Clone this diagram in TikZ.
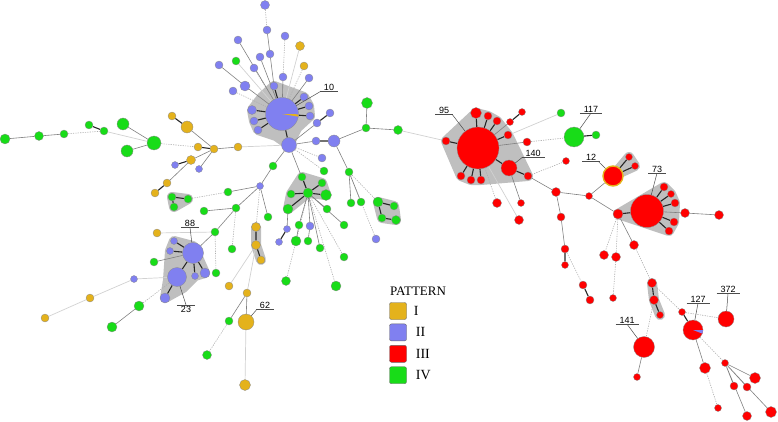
\documentclass[tikz,border=0pt]{standalone}
\usepackage{fontspec}
\setmainfont{Liberation Serif}
\newfontfamily\tagfont{Liberation Sans}
\usetikzlibrary{positioning,backgrounds}
\definecolor{patI}{RGB}{228,178,28}
\definecolor{patII}{RGB}{128,128,240}
\definecolor{patIII}{RGB}{255,0,0}
\definecolor{patIV}{RGB}{24,220,24}

\begin{document}
\begin{tikzpicture}[
    x=1pt, y=-1pt,
    st/.style={circle, draw=black!45, line width=0.3pt, inner sep=0pt, minimum size=#1},
    pI/.style={st=#1, fill=patI}, pI/.default=8,
    pII/.style={st=#1, fill=patII}, pII/.default=8,
    pIII/.style={st=#1, fill=patIII}, pIII/.default=8,
    pIV/.style={st=#1, fill=patIV}, pIV/.default=8,
    tieln/.style={draw=black!85, line width=1.1pt},
    grayln/.style={draw=black!50, line width=0.6pt},
    paleln/.style={draw=black!18, line width=0.7pt},
    dotln/.style={draw=black!32, line width=0.6pt, dash pattern=on 1.2pt off 1.2pt},
    halo/.style={draw=black!25, fill=black!25, line width=10pt, line join=round, line cap=round},
    numtag/.style={font=\tagfont\fontsize{9}{9}\selectfont, inner sep=0.8pt},
    tagln/.style={draw=black!70, line width=0.5pt},
    keybox/.style={draw=black!60, rounded corners=2pt, minimum size=17pt, inner sep=0pt, line width=0.4pt},
    keytext/.style={font=\fontsize{14}{14}\selectfont, inner sep=0pt}
]
    \useasboundingbox (0,0) rectangle (778,422);

    % Nodes: cluster round 10
    \node[pII=33] (n10) at (282,114) {};
    \node[pII=15] (b20) at (289,145) {};
    \node[pII=9] (u1) at (252,110) {};
    \node[pII] (u2) at (254,121) {};
    \node[pII] (u3) at (258,130) {};
    \node[pII] (u4) at (304,97) {};
    \node[pII] (u5) at (309,106) {};
    \node[pII] (u6) at (310,116) {};
    \node[pII] (u7) at (274,86) {};
    \node[pII=9] (u8) at (265,5) {};
    \node[pII] (u9) at (267,30) {};
    \node[pII] (u10) at (270,54) {};
    \node[pII] (u11) at (285,36) {};
    \node[pII] (u12) at (283,77) {};
    \node[pI=9] (yu1) at (300,46) {};
    \node[pI] (yu2) at (304,66) {};
    \node[pII] (u13) at (309,78) {};
    \node[pII] (u14) at (238,40) {};
    \node[pII] (u15) at (260,57) {};
    \node[pIV] (gu1) at (236,61) {};
    \node[pII] (u16) at (254,68) {};
    \node[pII] (u17) at (219,65) {};
    \node[pII=10] (u18) at (245,86) {};
    \node[pII] (u19) at (233,91) {};
    \node[pII] (u20) at (330,113) {};
    \node[pII] (u21) at (317,123) {};
    \node[pII] (u22) at (316,141) {};
    \node[pII=12] (u23) at (334,141) {};
    \node[pII] (u24) at (322,158) {};
    \node[pIV] (gu2) at (324,171) {};

    % Nodes: far left
    \node[pIV=10] (g1) at (5,139) {};
    \node[pIV=9] (g2) at (39,136) {};
    \node[pIV] (g3) at (64,134) {};
    \node[pIV] (g4) at (89,125) {};
    \node[pIV] (g5) at (104,131) {};
    \node[pIV=12] (g6) at (123,124) {};
    \node[pIV=14] (g7) at (154,143) {};
    \node[pIV=12] (g8) at (127,151) {};
    \node[pI] (y1) at (198,147) {};
    \node[pI] (y2) at (214,149) {};
    \node[pI] (y3) at (238,147) {};
    \node[pI=12] (y4) at (187,127) {};
    \node[pI] (y5) at (172,116) {};
    \node[pI=9] (y6) at (191,160) {};
    \node[pII=7] (b1) at (175,165) {};
    \node[pII=7] (b2) at (199,169) {};
    \node[pI] (y7) at (167,183) {};
    \node[pI] (y8) at (155,193) {};
    \node[pIV] (g9) at (172,197) {};
    \node[pIV] (g10) at (188,199) {};
    \node[pIV] (g11) at (174,207) {};

    % Nodes: middle left
    \node[pIV] (g12) at (228,192) {};
    \node[pII=7] (b3) at (260,186) {};
    \node[pIV] (g13) at (273,166) {};
    \node[pIV] (g14) at (204,211) {};
    \node[pIV] (g15) at (236,208) {};
    \node[pIV] (g16) at (215,232) {};
    \node[pIV] (g17) at (232,249) {};
    \node[pIV] (g18) at (216,273) {};
    \node[pIV] (g19) at (268,217) {};
    \node[pI] (y9) at (157,233) {};
    \node[pIV] (g20) at (154,262) {};
    \node[pII=21] (n88) at (193,253) {};
    \node[pII=7] (b4) at (174,241) {};
    \node[pII=7] (b5) at (170,251) {};
    \node[pII=7] (b6) at (195,276) {};
    \node[pII=10] (b7) at (205,273) {};
    \node[pII=19] (n23) at (177,277) {};
    \node[pII=10] (b8) at (165,298) {};
    \node[pII=7] (b9) at (134,279) {};
    \node[pI] (y10) at (90,298) {};
    \node[pI] (y11) at (45,318) {};
    \node[pIV=10] (g22) at (139,306) {};
    \node[pIV=10] (g23) at (112,327) {};
    \node[pI=9] (y12) at (256,227) {};
    \node[pI=9] (y13) at (256,245) {};
    \node[pI] (y14) at (261,260) {};
    \node[pI] (y15) at (229,286) {};
    \node[pI] (y16) at (247,293) {};
    \node[pI=16] (n62) at (246,322) {};
    \node[pIV] (g24) at (229,321) {};
    \node[pIV=9] (g25) at (207,355) {};
    \node[pI=11] (y17) at (245,385) {};

    % Nodes: green centre
    \node[pIV=10] (g30) at (308,193) {};
    \node[pIV] (g31) at (302,177) {};
    \node[pIV] (g32) at (322,183) {};
    \node[pIV=11] (g33) at (326,195) {};
    \node[pIV] (g34) at (291,194) {};
    \node[pIV=10] (g35) at (288,209) {};
    \node[pII=7] (b10) at (287,229) {};
    \node[pII=7] (b11) at (279,242) {};
    \node[pIV] (g36) at (299,225) {};
    \node[pII] (b12) at (310,226) {};
    \node[pIV=10] (g37) at (296,241) {};
    \node[pIV] (g38) at (308,241) {};
    \node[pIV] (g39) at (320,248) {};
    \node[pIV] (g40) at (327,209) {};
    \node[pIV] (g41) at (344,225) {};
    \node[pIV] (g42) at (344,257) {};
    \node[pIV=9] (g43) at (286,281) {};
    \node[pIV=10] (g44) at (336,286) {};
    \node[pIV=11] (m1) at (367,103) {};
    \node[pIV] (m2) at (366,128) {};
    \node[pIV=9] (m3) at (398,130) {};
    \node[pIV] (m4) at (349,172) {};
    \node[pIV] (m5) at (351,203) {};
    \node[pIV] (m6) at (361,202) {};
    \node[pIV=10] (m7) at (378,202) {};
    \node[pIV] (m8) at (394,206) {};
    \node[pIV] (m9) at (382,218) {};
    \node[pIV=9] (m10) at (396,220) {};
    \node[pII] (b13) at (376,239) {};

    % Nodes: red side
    \node[pIII=42] (n95) at (478,148) {};
    \node[pIII] (r1) at (446,141) {};
    \node[pIII=11] (r2) at (476,113) {};
    \node[pIII] (r3) at (488,116) {};
    \node[pIII] (r4) at (497,121) {};
    \node[pIII] (r5) at (508,135) {};
    \node[pIII] (r6) at (461,176) {};
    \node[pIII] (r7) at (471,180) {};
    \node[pIII] (r8) at (481,180) {};
    \node[pIII=16] (n140) at (509,168) {};
    \node[pIII] (r9) at (528,176) {};
    \node[pIII=7] (r10) at (510,122) {};
    \node[pIII=7] (r11) at (522,112) {};
    \node[pIII] (r12) at (527,142) {};
    \node[pIV] (gr1) at (561,113) {};
    \node[pIV=20] (n117) at (574,137) {};
    \node[pIV] (gr2) at (596,135) {};
    \node[pIII=7] (r13) at (566,161) {};
    \node[pIII=9] (r14) at (497,203) {};
    \node[pIII=7] (r15) at (521,203) {};
    \node[pIII=9] (r16) at (519,220) {};
    \node[pIII=9] (r17) at (556,192) {};
    \node[pIII] (r18) at (561,217) {};
    \node[pIII] (r19) at (565,249) {};
    \node[pIII=7] (r20) at (565,265) {};
    \node[pIII] (r21) at (583,285) {};
    \node[pIII] (r22) at (590,300) {};
    \node[pIII=7] (r23) at (589,196) {};
    \node[pIII=20, draw=patI, line width=1.4pt] (n12) at (613,176) {};
    \node[pIII=7] (r24) at (629,157) {};
    \node[pIII=7] (r25) at (635,166) {};
    \node[pIII=10] (r26) at (618,214) {};
    \node[pIII=33] (n73) at (647,211) {};
    \node[pIII] (r27) at (664,187) {};
    \node[pIII=7] (r28) at (671,194) {};
    \node[pIII] (r29) at (675,203) {};
    \node[pIII] (r30) at (674,222) {};
    \node[pIII] (r31) at (669,231) {};
    \node[pIII=9] (r32) at (685,213) {};
    \node[pIII=9] (r33) at (719,215) {};
    \node[pIII=9] (r34) at (634,245) {};
    \node[pIII=9] (r35) at (604,255) {};
    \node[pIII=9] (r36) at (616,257) {};
    \node[pIII=7] (r37) at (613,298) {};
    \node[pIII=9] (r38) at (652,283) {};
    \node[pIII=9] (r39) at (654,300) {};
    \node[pIII=7] (r40) at (660,315) {};
    \node[pIII=21] (n141) at (644,347) {};
    \node[pIII=7] (r41) at (637,377) {};
    \node[pIII=7] (r42) at (682,312) {};
    \node[pIII=20] (n127) at (693,330) {};
    \node[pIII=16] (n372) at (726,319) {};
    \node[pIII=11] (r43) at (705,368) {};
    \node[pIII=7] (r44) at (718,408) {};
    \node[pIII=7] (r45) at (725,363) {};
    \node[pIII=11] (r46) at (755,378) {};
    \node[pIII] (r47) at (734,386) {};
    \node[pIII] (r48) at (747,387) {};
    \node[pIII=9] (r49) at (747,416) {};
    \node[pIII=11] (r50) at (771,412) {};

    % small pie slices
    \fill[patI] (n10.center) -- ++(16.5,0.3) -- ++(-0.3,2.4) -- cycle;
    \fill[patII] (n127.center) -- ++(10,0) -- ++(-0.7,3.6) -- cycle;

    % Number tags
    \node[numtag] (t10) at (329,87) {10};
    \node[numtag] (t95) at (444,110) {95};
    \node[numtag] (t140) at (533,153) {140};
    \node[numtag] (t117) at (591,109) {117};
    \node[numtag] (t12) at (591,157) {12};
    \node[numtag] (t73) at (657,169) {73};
    \node[numtag] (t88) at (190,223) {88};
    \node[numtag] (t23) at (186,309) {23};
    \node[numtag] (t62) at (265,305) {62};
    \node[numtag] (t141) at (627,320) {141};
    \node[numtag] (t127) at (698,299) {127};
    \node[numtag] (t372) at (728,289) {372};
    \foreach \t in {t10,t95,t140,t117,t12,t73,t88,t62,t141,t127,t372}
        \draw[tagln] ([xshift=-3pt]\t.south west) -- ([xshift=3pt]\t.south east);
    \draw[tagln] ([xshift=-3pt]t23.north west) -- ([xshift=3pt]t23.north east);
    \draw[tagln] ([xshift=-2pt]t10.south west) -- (n10);
    \draw[tagln] ([xshift=2pt]t95.south east) -- (n95);
    \draw[tagln] ([xshift=-2pt]t140.south west) -- (n140);
    \draw[tagln] (t117.south) -- (n117);
    \draw[tagln] ([xshift=1pt]t12.south east) -- (n12);
    \draw[tagln] (t73.south) -- (n73);
    \draw[tagln] (t88.south) -- (n88);
    \draw[tagln] (t23.north) -- (n23);
    \draw[tagln] ([xshift=-2pt]t62.south west) -- (n62);
    \draw[tagln] (t141.south) -- (n141);
    \draw[tagln] (t127.south) -- (n127);
    \draw[tagln] (t372.south) -- (n372);

    % Legend
    \node[font=\fontsize{13}{13}\selectfont] (pat) at (418,291) {PATTERN};
    \node[keybox, fill=patI] (kI) at (398,311) {};
    \node[keybox, fill=patII, below=4pt of kI] (kII) {};
    \node[keybox, fill=patIII, below=4pt of kII] (kIII) {};
    \node[keybox, fill=patIV, below=4pt of kIII] (kIV) {};
    \node[keytext, right=7pt of kI] {I};
    \node[keytext, right=9pt of kII] {II};
    \node[keytext, right=9pt of kIII] {III};
    \node[keytext, right=9pt of kIV] {IV};

    \begin{scope}[on background layer]
    % Halos
    \path[halo] (u7.center) -- (u4.center) -- (u5.center) -- (u6.center) -- (297,128) -- (b20.center)
        -- (276,136) -- (u3.center) -- (u2.center) -- (u1.center) -- (262,97) -- cycle;
    \path[halo] (b4.center) -- (193,246) -- (b7.center) -- (b6.center) -- (183,288) -- (b8.center)
        -- (168,280) -- (b5.center) -- cycle;
    \path[halo] (g9.center) -- (g10.center) -- (g11.center) -- cycle;
    \path[halo] (y12.center) -- (y13.center) -- (y14.center);
    \path[halo] (g31.center) -- (g32.center) -- (g33.center) -- (g30.center) -- (g35.center) -- (g34.center) -- cycle;
    \path[halo] (m7.center) -- (m8.center) -- (m10.center) -- (m9.center) -- cycle;
    \path[halo] (r1.center) -- (r2.center) -- (r3.center) -- (r4.center) -- (r5.center) -- (r9.center)
        -- (r8.center) -- (r7.center) -- (r6.center) -- cycle;
    \path[halo] (n12.center) -- (r24.center) -- (r25.center) -- cycle;
    \path[halo] (r26.center) -- (r27.center) -- (r28.center) -- (r29.center) -- (r30.center) -- (r31.center) -- cycle;
    \path[halo] (r38.center) -- (r39.center) -- (r40.center);

    % Edges
    \draw[paleln] (g5) -- (g7) (y3) -- (b20) (yu1) -- (n10) (gu1) -- (n10) (b9) -- (n23) (b9) -- (y10)
        (y10) -- (y11) (y9) -- (g16) (y13) -- (y15) (y13) -- (y16) (n62) -- (y17) (m3) -- (r1)
        (n95) -- (gr1) (n95) -- (r16);
    \draw[dotln] (g3) -- (g5) (g7) -- (y1) (u8) -- (u9) (u11) -- (u12) (yu2) -- (n10) (u16) -- (n10)
        (u19) -- (n10) (b20) -- (u24) (b20) -- (gu2) (g10) -- (g12) (g15) -- (g17) (g16) -- (g18)
        (g22) -- (n23) (b3) -- (y12) (g24) -- (g25) (g30) -- (g42) (g30) -- (g43) (g30) -- (g44)
        (m4) -- (m7) (m4) -- (b13) (r12) -- (n117) (r9) -- (r13) (n95) -- (r14) (r19) -- (r21)
        (r26) -- (r35) (r26) -- (r36) (r36) -- (r37) (r34) -- (r38) (r38) -- (r42) (r39) -- (n141)
        (r42) -- (n372) (r43) -- (r44) (n127) -- (r45);
    \draw[grayln] (g1) -- (g2) (g2) -- (g3) (g6) -- (g7) (g8) -- (g7) (y4) -- (y2) (y6) -- (y2)
        (b2) -- (y2) (y2) -- (y3) (y7) -- (y6) (u9) -- (u10) (u10) -- (u7) (u12) -- (n10)
        (u13) -- (n10) (u14) -- (n10) (u15) -- (n10) (u17) -- (u18) (u18) -- (n10) (u21) -- (b20)
        (b20) -- (u22) (b20) -- (g30) (b20) -- (g13) (g13) -- (b3) (b3) -- (g12) (b3) -- (g15)
        (b3) -- (g19) (g15) -- (g14) (g15) -- (g16) (g16) -- (n88) (g20) -- (n88) (g22) -- (g23)
        (y16) -- (n62) (y16) -- (g24) (g30) -- (g40) (g30) -- (g41) (g30) -- (g36) (g30) -- (b12)
        (g30) -- (g39) (g36) -- (g37) (b12) -- (g38) (g35) -- (b10) (u23) -- (m2) (m2) -- (m1)
        (m2) -- (m3) (u23) -- (m4) (m4) -- (m5) (m4) -- (m6) (n95) -- (r10) (n95) -- (r12)
        (n140) -- (r15) (r9) -- (r17) (r17) -- (r23) (r23) -- (n12) (r23) -- (r26) (n73) -- (r32)
        (r32) -- (r33) (r17) -- (r18) (r18) -- (r19) (r26) -- (r34) (n141) -- (r41) (n127) -- (r43)
        (r45) -- (r46) (r45) -- (r47) (r45) -- (r48) (r45) -- (r49) (r45) -- (r50);
    \draw[tieln] (n10) -- (u1) (n10) -- (u2) (n10) -- (u3) (n10) -- (u4) (n10) -- (u5) (n10) -- (u6)
        (n10) -- (u7) (n10) -- (b20) (u20) -- (u21) (u22) -- (u23) (y1) -- (y2) (y5) -- (y4)
        (b1) -- (y6) (y8) -- (y7) (g4) -- (g5) (g9) -- (g10) (g9) -- (g11) (y12) -- (y13)
        (y13) -- (y14) (n88) -- (b4) (n88) -- (b5) (n88) -- (b6) (n88) -- (b7) (n88) -- (n23)
        (n23) -- (b8) (g30) -- (g31) (g30) -- (g32) (g30) -- (g33) (g30) -- (g34) (g30) -- (g35)
        (b10) -- (b11) (m7) -- (m8) (m7) -- (m9) (m9) -- (m10);
    \draw[tieln] (n95) -- (r1) (n95) -- (r2) (n95) -- (r3) (n95) -- (r4) (n95) -- (r5) (n95) -- (r6)
        (n95) -- (r7) (n95) -- (r8) (n95) -- (n140) (n140) -- (r9) (r10) -- (r11) (n117) -- (gr2)
        (n12) -- (r24) (n12) -- (r25) (r26) -- (n73) (n73) -- (r27) (n73) -- (r28) (n73) -- (r29)
        (n73) -- (r30) (n73) -- (r31) (r19) -- (r20) (r21) -- (r22) (r38) -- (r39) (r39) -- (r40)
        (r42) -- (n127);
    \end{scope}

\end{tikzpicture}
\end{document}
